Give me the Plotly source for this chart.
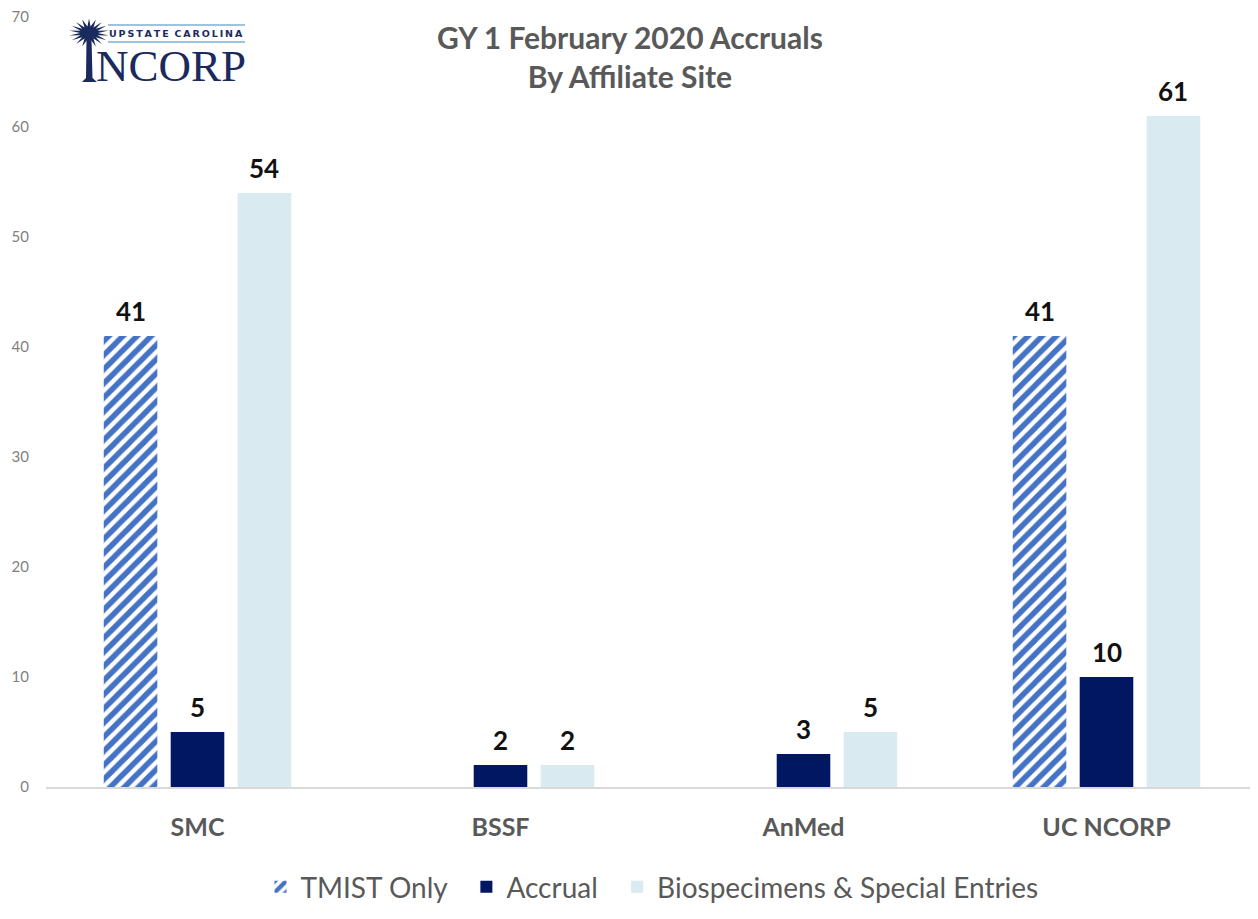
import math
import plotly.graph_objects as go

# ---- data ----
categories = ["SMC", "BSSF", "AnMed", "UC NCORP"]
tmist_only = [41, None, None, 41]
accrual = [5, 2, 3, 10]
biospecimens = [54, 2, 5, 61]
series_names = ["TMIST Only", "Accrual", "Biospecimens & Special Entries"]
y_ticks = [0, 10, 20, 30, 40, 50, 60, 70]

# page has an 8px body margin; figure sized so it fills the 1258x919 window
OFF = 8
W, H = 1258 - OFF, 919 - OFF
PL, PT, PB = 46, 17, 787          # plot area edges in page pixels
L, R, T, B = PL - OFF, 0, PT - OFF, H - (PB - OFF)
PW, PH = W - L - R, H - T - B

def px(x):
    return (x - PL) / PW

def py(y):
    return (PB - y) / PH

FONT = "Lato, 'Open Sans', sans-serif"
GRAY = "#595959"
BARGAP, GROUPGAP = 0.337, 0.2
slot = PW / len(categories) * (1 - BARGAP) / 3
PAD = "\u00a0" * 2

fig = go.Figure()
fig.add_trace(go.Bar(
    name=series_names[0] + PAD, x=categories, y=tmist_only,
    marker=dict(color="white", line=dict(width=0),
                pattern=dict(shape="/", fgcolor="#4472c4", bgcolor="white", fgopacity=1,
                             size=10, solidity=0.55)),
))
fig.add_trace(go.Bar(
    name=series_names[1] + PAD, x=categories, y=accrual,
    marker=dict(color="#021761", line=dict(width=0)),
))
fig.add_trace(go.Bar(
    name=series_names[2], x=categories, y=biospecimens,
    marker=dict(color="#d9eaf1", line=dict(width=0)),
))

annotations = []
for i, series in enumerate([tmist_only, accrual, biospecimens]):
    for cat, v in zip(categories, series):
        if v is None:
            continue
        annotations.append(dict(
            x=cat, y=v, xref="x", yref="y", text=str(v), showarrow=False,
            xshift=(i - 1) * slot, yshift=7, yanchor="bottom", xanchor="center",
            font=dict(family=FONT, size=26, color="#111111", weight="bold")))

# title
annotations.append(dict(
    text="GY 1 February 2020 Accruals<br>By Affiliate Site", xref="paper", yref="paper",
    x=px(630), y=py(56.5), xanchor="center", yanchor="middle", showarrow=False,
    font=dict(family=FONT, size=30, color=GRAY, weight="bold")))

# logo (decorative): palm + text
shapes = []
cx, cy, r_out, r_in, n = 89, 33, 20, 9, 18
pts = []
for i in range(2 * n):
    ang = math.pi * i / n - math.pi / 2
    rr = r_out if i % 2 == 0 else r_in
    pts.append((cx + rr * math.cos(ang), cy + rr * 0.72 * math.sin(ang)))
path = "M " + " L ".join(f"{px(a):.5f},{py(b):.5f}" for a, b in pts) + " Z"
shapes.append(dict(type="path", xref="paper", yref="paper", path=path,
                   fillcolor="#1b2a5c", line=dict(width=0)))
trunk = (f"M {px(86.5):.5f},{py(38):.5f} L {px(91.5):.5f},{py(38):.5f} L {px(92.5):.5f},{py(78):.5f} "
         f"L {px(97):.5f},{py(82):.5f} L {px(82):.5f},{py(82):.5f} L {px(86):.5f},{py(78):.5f} Z")
shapes.append(dict(type="path", xref="paper", yref="paper", path=trunk,
                   fillcolor="#1b2a5c", line=dict(width=0)))
for yy in (25, 42):
    shapes.append(dict(type="line", xref="paper", yref="paper",
                       x0=px(108), x1=px(245), y0=py(yy), y1=py(yy),
                       line=dict(color="#9cc2e6", width=2)))

logo_small = "\u2009".join("UPSTATE") + "\u2009\u2009\u2009" + "\u2009".join("CAROLINA")
annotations += [
    dict(text=logo_small, xref="paper", yref="paper", x=px(176), y=py(34),
         showarrow=False, font=dict(family="'DejaVu Sans', sans-serif", size=9.5, color="#1b2a5c", weight="bold"),
         xanchor="center", yanchor="middle"),
    dict(text="NCORP", xref="paper", yref="paper", x=px(171), y=py(66),
         showarrow=False, font=dict(family="'Liberation Serif', 'DejaVu Serif', serif", size=45, color="#1b2a5c"),
         xanchor="center", yanchor="middle"),
]

fig.update_layout(
    width=W, height=H,
    margin=dict(l=L, r=R, t=T, b=B),
    paper_bgcolor="white", plot_bgcolor="white",
    barmode="group", bargap=BARGAP, bargroupgap=GROUPGAP,
    font=dict(family=FONT, color=GRAY),
    showlegend=True,
    legend=dict(orientation="h", x=px(652), xanchor="center", y=py(887), yanchor="middle",
                font=dict(family=FONT, size=28, color=GRAY), itemwidth=30,
                traceorder="normal"),
    xaxis=dict(showline=True, linecolor="#d9d9d9", linewidth=1.5, showgrid=False,
               tickfont=dict(family=FONT, size=25, color=GRAY, weight="bold"),
               ticks="", ticklabelstandoff=17),
    yaxis=dict(range=[0, 70], tickvals=y_ticks, showgrid=False, zeroline=False, showline=False,
               tickfont=dict(family=FONT, size=15, color="#7f7f7f"), ticks="",
               ticklabelstandoff=16, ticklabeloverflow="allow"),
    shapes=shapes,
    annotations=annotations,
)

fig.write_html("out.html")
